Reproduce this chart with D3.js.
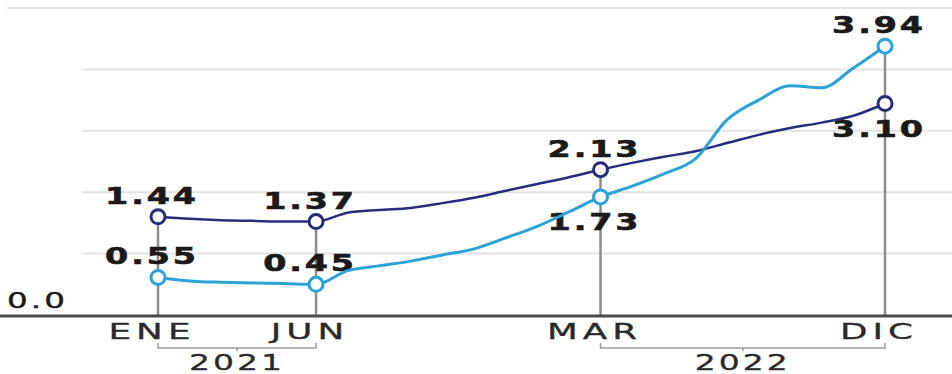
<!DOCTYPE html>
<html>
<head>
<meta charset="utf-8">
<script src="https://cdn.jsdelivr.net/npm/d3@7"></script>
<style>
  html, body { margin: 0; padding: 0; background: #fff; }
  svg { display: block; }
  text { font-family: "DejaVu Sans", sans-serif; fill: #1a1a1a; }
</style>
</head>
<body>
<div id="chart"></div>
<script>
// monthly values, ENE 2021 .. DIC 2022
const months = d3.range(24);
const darkSeries = [1.44, 1.41, 1.39, 1.38, 1.37, 1.37,
                    1.50, 1.54, 1.57, 1.64, 1.72, 1.82,
                    1.92, 2.02, 2.13, 2.23, 2.32, 2.40,
                    2.52, 2.64, 2.74, 2.82, 2.92, 3.10];
const lightSeries = [0.55, 0.50, 0.48, 0.47, 0.46, 0.45,
                     0.65, 0.72, 0.79, 0.88, 0.97, 1.13,
                     1.30, 1.51, 1.73, 1.89, 2.07, 2.29,
                     2.86, 3.15, 3.36, 3.33, 3.62, 3.94];
const markedMonths = [0, 5, 14, 23];
const monthLabels = ["ENE", "JUN", "MAR", "DIC"];
const years = [{ label: "2021", from: 0, to: 5 }, { label: "2022", from: 14, to: 23 }];
const gridTicks = [0.9, 1.8, 2.7, 3.6, 4.5];

const width = 952, height = 374;
const darkColor = "#282c7a";
const lightColor = "#2ba2d8";

const svg = d3.select("#chart").append("svg")
    .attr("width", width)
    .attr("height", height);

const x = d3.scaleLinear().domain([0, 23]).range([158, 885]);
const y = d3.scaleLinear().domain([0, 4.5]).range([315, 8]);

// grid
svg.append("g").attr("class", "grid")
    .selectAll("line")
    .data(gridTicks)
    .join("line")
    .attr("x1", d => d === 4.5 ? 7 : 82)
    .attr("x2", width)
    .attr("y1", d => y(d))
    .attr("y2", d => y(d))
    .attr("stroke", "#e2e2e2")
    .attr("stroke-width", 2);

// stems from the highest point down to the baseline
svg.append("g").attr("class", "stems")
    .selectAll("line")
    .data(markedMonths)
    .join("line")
    .attr("x1", d => x(d))
    .attr("x2", d => x(d))
    .attr("y1", d => y(Math.max(darkSeries[d], lightSeries[d])))
    .attr("y2", y(0))
    .attr("stroke", "#8c8c8c")
    .attr("stroke-width", 2.5);

// baseline
svg.append("line")
    .attr("x1", 0).attr("x2", width)
    .attr("y1", y(0) + 1).attr("y2", y(0) + 1)
    .attr("stroke", "#4a4a48")
    .attr("stroke-width", 3);

// the lettering in the original is horizontally wide, so stretch it
function stretchedText(g, px, py, txt, opts) {
    return g.append("text")
        .attr("transform", `translate(${px},${py}) scale(${opts.sx || 1.45},1)`)
        .attr("text-anchor", opts.anchor || "middle")
        .style("font-size", opts.size + "px")
        .style("font-weight", opts.weight || "normal")
        .style("letter-spacing", (opts.ls || 0) + "px")
        .text(txt);
}

const labels = svg.append("g").attr("class", "labels");
stretchedText(labels, 7, 308, "0.0", { size: 21, anchor: "start", ls: 2, sx: 1.55 })
    .style("stroke", "#1a1a1a").style("stroke-width", 0.4);

// lines
const line = d3.line()
    .x((d, i) => x(months[i]))
    .y(d => y(d))
    .curve(d3.curveMonotoneX);

[[darkSeries, darkColor, 2.5], [lightSeries, lightColor, 3]].forEach(([series, color, w]) => {
    svg.append("path")
        .datum(series)
        .attr("fill", "none")
        .attr("stroke", color)
        .attr("stroke-width", w)
        .attr("d", line);

    svg.append("g")
        .selectAll("circle")
        .data(markedMonths)
        .join("circle")
        .attr("cx", d => x(d))
        .attr("cy", d => y(series[d]))
        .attr("r", 7)
        .attr("fill", "#fff")
        .attr("stroke", color)
        .attr("stroke-width", 3);
});

// value labels: upper point always above, lower one above or below
const lowerBelow = [false, false, true, true];
markedMonths.forEach((m, i) => {
    const a = darkSeries[m], b = lightSeries[m];
    const hi = Math.max(a, b), lo = Math.min(a, b);
    const ly = lowerBelow[i] ? y(lo) + 33 : y(lo) - 13;
    [[hi, y(hi) - 13], [lo, ly]].forEach(([v, py]) => {
        stretchedText(labels, x(m) - 6, py, v.toFixed(2), { size: 23, weight: "bold", ls: 2 })
            .style("stroke", "#1a1a1a").style("stroke-width", 0.6);
    });
});

// month labels
markedMonths.forEach((m, i) => {
    stretchedText(labels, x(m) - 6, 339, monthLabels[i], { size: 21, ls: 3, sx: 1.7 })
        .style("fill", "#2a2a2a")
        .style("stroke", "#2a2a2a").style("stroke-width", 0.3);
});

// year brackets
const brackets = svg.append("g").attr("class", "years");
years.forEach(yr => {
    const x0 = x(yr.from), x1 = x(yr.to), by = 348;
    const mid = (x0 + x1) / 2;
    brackets.append("path")
        .attr("d", `M${x0},${by - 5} L${x0},${by} L${x1},${by} L${x1},${by - 5} M${mid},${by} L${mid},${by + 3}`)
        .attr("fill", "none")
        .attr("stroke", "#9a9a9a")
        .attr("stroke-width", 1.5);
    stretchedText(brackets, mid, 370, yr.label, { size: 22, ls: 2, sx: 1.5 })
        .style("fill", "#2a2a2a")
        .style("stroke", "#2a2a2a").style("stroke-width", 0.3);
});
</script>
</body>
</html>
